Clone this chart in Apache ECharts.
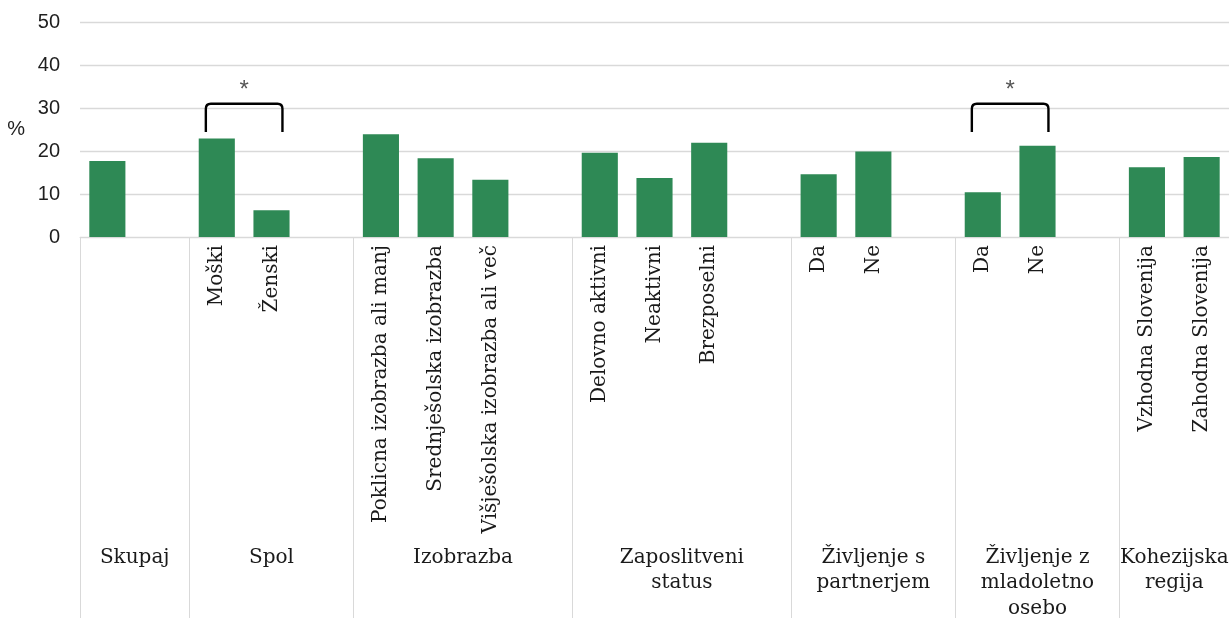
<!DOCTYPE html>
<html>
<head>
<meta charset="utf-8">
<script src="https://cdn.jsdelivr.net/npm/echarts@6/dist/echarts.min.js"></script>
<style>
  html, body { margin: 0; padding: 0; background: #fff; }
  #chart { width: 1229px; height: 618px; }
</style>
</head>
<body>
<div id="chart"></div>
<script>
// 21 slots on the axis, '' = empty gap between groups
const categories = ['Skupaj', '', 'Moški', 'Ženski', '', 'Poklicna izobrazba ali manj', 'Srednješolska izobrazba',
  'Višješolska izobrazba ali več', '', 'Delovno aktivni', 'Neaktivni', 'Brezposelni', '', 'Da', 'Ne', '',
  'Da', 'Ne', '', 'Vzhodna Slovenija', 'Zahodna Slovenija'];
const shownLabels = ['', '', 'Moški', 'Ženski', '', 'Poklicna izobrazba ali manj', 'Srednješolska izobrazba',
  'Višješolska izobrazba ali več', '', 'Delovno aktivni', 'Neaktivni', 'Brezposelni', '', 'Da', 'Ne', '',
  'Da', 'Ne', '', 'Vzhodna Slovenija', 'Zahodna Slovenija'];
const values = [17.7, null, 22.9, 6.2, null, 23.9, 18.3, 13.3, null, 19.6, 13.7, 21.9, null, 14.6, 19.9, null,
  10.4, 21.2, null, 16.2, 18.6];

// group names and their centre (in slot units) on the lower axis
const groupNames = ['Skupaj', 'Spol', 'Izobrazba', 'Zaposlitveni\nstatus', 'Življenje s\npartnerjem',
  'Življenje z\nmladoletno\nosebo', 'Kohezijska\nregija'];
const groupCenters = [1, 3.5, 7, 11, 14.5, 17.5, 20];
const groupBounds = [0, 2, 5, 9, 13, 16, 19, 21];

const yTicks = [0, 10, 20, 30, 40, 50];

// significance brackets: [from slot, to slot, top value, foot value]
const brackets = [[2, 3, 31, 24.4], [16, 17, 31, 24.4]];

const serif = '"DejaVu Serif", serif';
const sans = '"Liberation Sans", Arial, sans-serif';

const chart = echarts.init(document.getElementById('chart'));
chart.setOption({
  animation: false,
  grid: { left: 80, right: 0, top: 22, bottom: 381, containLabel: false, outerBoundsMode: 'none' },
  xAxis: [{
    type: 'category',
    data: categories,
    axisLine: { show: true, lineStyle: { color: '#d9d9d9', width: 1 } },
    axisTick: {
      show: true,
      length: 381,
      alignWithLabel: false,
      interval: function (i) { return groupBounds.indexOf(i) >= 0; },
      lineStyle: { color: '#d9d9d9', width: 1 }
    },
    axisLabel: {
      interval: 0,
      rotate: 90,
      margin: 8,
      fontFamily: serif,
      fontSize: 20,
      color: '#1a1a1a',
      formatter: function (v, i) { return shownLabels[i]; }
    },
    splitLine: { show: false }
  }, {
    type: 'value',
    position: 'bottom',
    min: 0,
    max: 21,
    interval: 0.5,
    axisLine: { show: false },
    axisTick: { show: false },
    splitLine: { show: false },
    axisLabel: {
      margin: 308,
      verticalAlign: 'top',
      align: 'center',
      lineHeight: 25.5,
      fontFamily: serif,
      fontSize: 20,
      color: '#1a1a1a',
      formatter: function (v) {
        const k = groupCenters.indexOf(v);
        return k >= 0 ? groupNames[k] : '';
      }
    }
  }],
  yAxis: {
    type: 'value',
    min: yTicks[0],
    max: yTicks[yTicks.length - 1],
    interval: 10,
    name: '%',
    nameLocation: 'middle',
    nameRotate: 0,
    nameGap: 55,
    nameTextStyle: { fontFamily: sans, fontSize: 20, color: '#1f1f1f' },
    axisLine: { show: false },
    axisTick: { show: false },
    axisLabel: { fontFamily: sans, fontSize: 20, color: '#1f1f1f', margin: 20 },
    splitLine: { lineStyle: { color: '#d9d9d9', width: 1.3 } }
  },
  series: [{
    type: 'bar',
    data: values,
    barCategoryGap: '34%',
    itemStyle: { color: '#2e8955' }
  }, {
    type: 'custom',
    data: brackets,
    clip: false,
    z: 5,
    renderItem: function (params, api) {
      const band = api.size([1, 0])[0];
      const pad = band * 0.2;
      const a = api.coord([api.value(0), api.value(2)]);
      const b = api.coord([api.value(1), api.value(2)]);
      const foot = api.coord([api.value(0), api.value(3)])[1];
      const star = api.coord([api.value(0), api.value(2) + 3.2])[1];
      const x1 = a[0] - pad, x2 = b[0] + pad, yt = a[1], r = 5;
      const d = 'M' + x1 + ' ' + foot + ' L' + x1 + ' ' + (yt + r) + ' Q' + x1 + ' ' + yt + ' ' + (x1 + r) + ' ' + yt +
        ' L' + (x2 - r) + ' ' + yt + ' Q' + x2 + ' ' + yt + ' ' + x2 + ' ' + (yt + r) + ' L' + x2 + ' ' + foot;
      return {
        type: 'group',
        children: [{
          type: 'path',
          shape: { pathData: d },
          style: { fill: 'none', stroke: '#000', lineWidth: 2.4 }
        }, {
          type: 'text',
          style: {
            text: '*', x: (x1 + x2) / 2, y: star,
            align: 'center', verticalAlign: 'middle',
            fontFamily: sans, fontSize: 24, fill: '#555'
          }
        }]
      };
    }
  }]
});
</script>
</body>
</html>
